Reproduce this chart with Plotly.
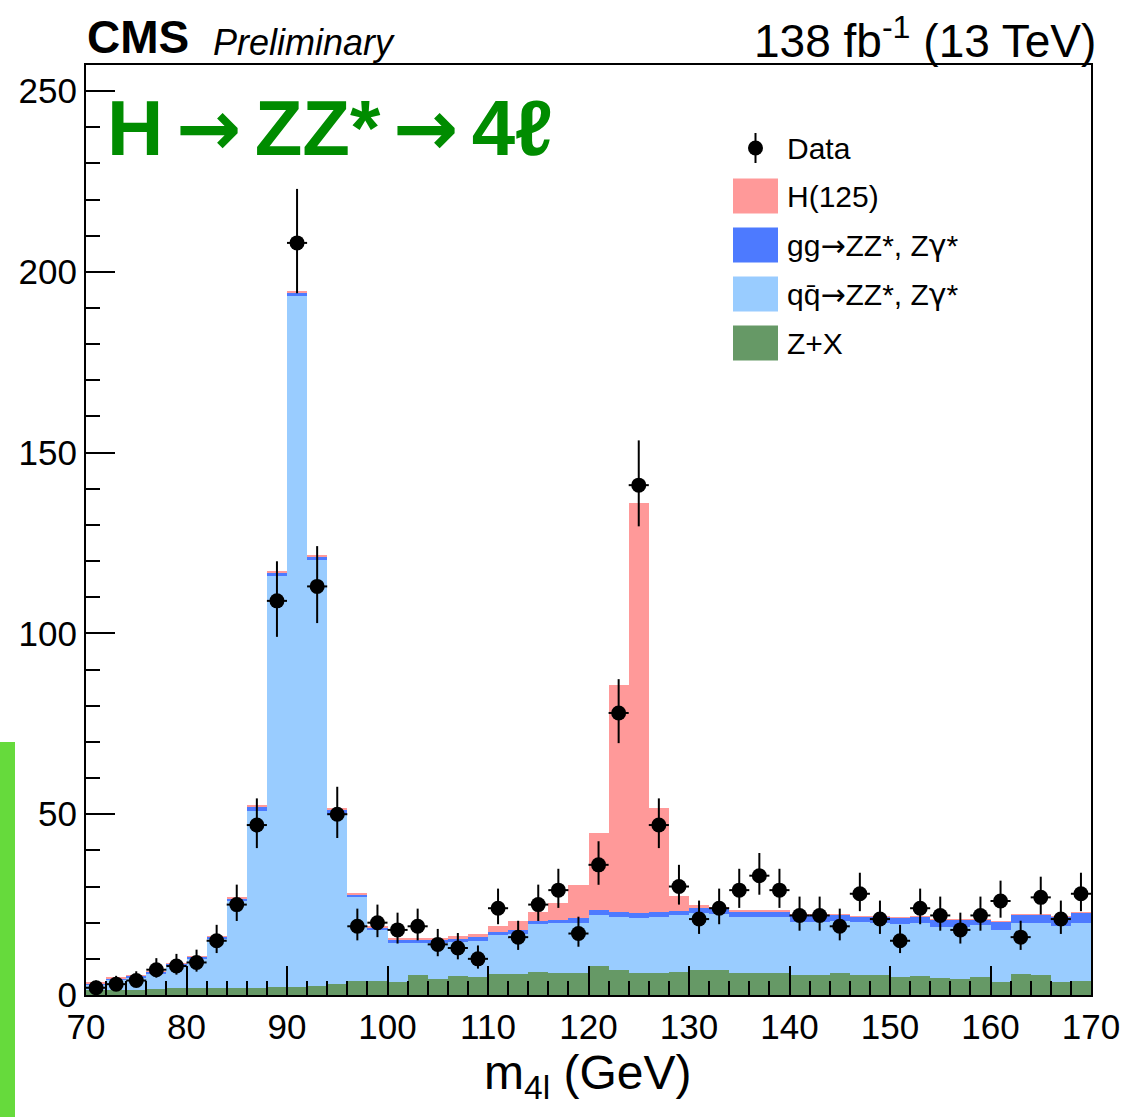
import numpy as np
import plotly.graph_objects as go

# ---------------- data ----------------
mass_centers = [71, 73, 75, 77, 79, 81, 83, 85, 87, 89, 91, 93, 95, 97, 99,
                101, 103, 105, 107, 109, 111, 113, 115, 117, 119, 121, 123, 125, 127, 129,
                131, 133, 135, 137, 139, 141, 143, 145, 147, 149, 151, 153, 155, 157, 159,
                161, 163, 165, 167, 169]

data_counts = [2, 3, 4, 7, 8, 9, 15, 25, 47, 109, 208, 113, 50, 19, 20,
               18, 19, 14, 13, 10, 24, 16, 25, 29, 17, 36, 78, 141, 47, 30,
               21, 24, 29, 33, 29, 22, 22, 19, 28, 21, 15, 24, 22, 18, 22,
               26, 16, 27, 21, 28]

zx_bkg = [1.5, 1.5, 1.5, 1.6, 1.8, 1.8, 1.9, 2.0, 2.0, 2.1, 2.2, 2.5, 3.0, 4.0, 3.8,
          3.7, 5.5, 4.4, 5.2, 5.0, 5.8, 5.8, 6.3, 6.0, 6.0, 8.0, 7.0, 6.2, 6.2, 6.5,
          7.0, 7.0, 6.2, 6.0, 6.2, 5.4, 5.4, 6.0, 5.6, 5.6, 5.0, 5.2, 4.6, 4.4, 5.0,
          3.6, 5.8, 5.6, 3.6, 4.0]

qq_zz = [1.4, 2.7, 3.3, 4.2, 6.3, 8.2, 13.6, 24.0, 49.0, 113.7, 191.0, 117.8, 47.0, 23.0, 14.2,
         10.7, 8.9, 10.0, 9.4, 10.0, 10.8, 11.2, 13.3, 13.9, 14.0, 14.0, 14.6, 15.2, 15.4, 15.6,
         15.6, 15.4, 15.3, 15.5, 15.3, 14.9, 14.9, 14.6, 14.7, 14.4, 14.6, 14.6, 14.3, 14.5, 14.3,
         14.4, 14.2, 14.4, 15.4, 16.0]

gg_zz = [0.4, 0.5, 0.5, 0.6, 0.6, 0.6, 0.7, 0.8, 1.2, 1.0, 1.0, 1.0, 1.2, 0.9, 0.8,
         0.9, 0.9, 1.0, 1.0, 1.0, 0.9, 0.9, 0.9, 0.9, 1.2, 1.5, 1.4, 1.4, 1.4, 1.1,
         1.4, 1.4, 1.7, 1.6, 1.7, 2.0, 2.0, 1.7, 1.3, 1.6, 1.8, 1.8, 2.0, 2.0, 1.6,
         2.3, 2.3, 2.3, 2.6, 2.8]

h125 = [0.1, 0.15, 0.1, 0.1, 0.1, 0.1, 0.1, 0.2, 0.3, 0.3, 0.3, 0.3, 0.3, 0.3, 0.2,
        0.3, 0.4, 0.4, 0.6, 0.8, 1.5, 2.6, 2.5, 4.6, 9.2, 21.2, 62.6, 113.2, 28.7, 4.1,
        1.0, 0.4, 0.3, 0.2, 0.1, 0.1, 0.1, 0.1, 0.2, 0.1, 0.1, 0.1, 0.1, 0.1, 0.1,
        0.1, 0.1, 0.1, 0.1, 0.1]

x_tick_vals = [70, 80, 90, 100, 110, 120, 130, 140, 150, 160, 170]
y_tick_vals = [0, 50, 100, 150, 200, 250]

ARROW = '<span style="font-family:DejaVu Sans">\u2192</span>'
GAMMA = '<span style="font-family:DejaVu Sans">\u03b3</span>'
legend_labels = ["Data", "H(125)",
                 "gg" + ARROW + "ZZ*, Z" + GAMMA + "*",
                 "qq\u0304" + ARROW + "ZZ*, Z" + GAMMA + "*",
                 "Z+X"]
trace_names = ["Z+X", "qq\u0304\u2192ZZ*, Z\u03b3*", "gg\u2192ZZ*, Z\u03b3*", "H(125)"]

# ---------------- styling ----------------
C_H = "#FF9999"
C_GG = "#4D7AFF"
C_QQ = "#99CCFF"
C_ZX = "#669966"
FONT = "Liberation Sans, Arial, Helvetica, sans-serif"

W, H = 1135, 1117
ML, MR, MT, MB = 86, 44, 65, 122
PW = W - ML - MR
PH = H - MT - MB


def px2paper_x(px):
    return (px - ML) / PW


def px2paper_y(py):
    return (H - MB - py) / PH


counts = np.array(data_counts, dtype=float)
err_up = 0.5 + np.sqrt(counts + 0.25)
err_dn = -0.5 + np.sqrt(counts + 0.25)

fig = go.Figure()
for name, vals, col in zip(trace_names, [zx_bkg, qq_zz, gg_zz, h125], [C_ZX, C_QQ, C_GG, C_H]):
    fig.add_trace(go.Bar(x=mass_centers, y=vals, width=2, name=name,
                         marker=dict(color=col, line=dict(width=0)),
                         showlegend=False))

fig.add_trace(go.Scatter(
    x=mass_centers, y=data_counts, mode="markers", name="Data",
    marker=dict(color="black", size=15),
    error_y=dict(type="data", symmetric=False, array=err_up, arrayminus=err_dn,
                 color="black", thickness=2, width=0),
    error_x=dict(type="constant", value=1, color="black", thickness=2, width=0),
    showlegend=False))

fig.update_layout(
    width=W, height=H,
    margin=dict(l=ML, r=MR, t=MT, b=MB),
    paper_bgcolor="white", plot_bgcolor="white",
    barmode="stack", bargap=0,
    font=dict(family=FONT, color="black", size=35),
    xaxis=dict(range=[70, 170], tickvals=x_tick_vals, ticks="inside", ticklen=29,
               tickwidth=2, tickcolor="black", showline=True, linecolor="black",
               linewidth=2, mirror=True, showgrid=False, zeroline=False,
               tickfont=dict(size=35),
               minor=dict(ticks="inside", ticklen=14, tickwidth=2, tickcolor="black",
                          dtick=2, tick0=70, showgrid=False)),
    yaxis=dict(range=[0, 257.2], tickvals=y_tick_vals, ticks="inside", ticklen=29,
               tickwidth=2, tickcolor="black", showline=True, linecolor="black",
               linewidth=2, mirror=True, showgrid=False, zeroline=False,
               tickfont=dict(size=35),
               minor=dict(ticks="inside", ticklen=14, tickwidth=2, tickcolor="black",
                          dtick=10, tick0=0, showgrid=False)),
)

TS = "\u2006"
ann = []
ann.append(dict(text="<b>CMS</b>", x=px2paper_x(85), y=px2paper_y(37), xref="paper", yref="paper",
                xanchor="left", yanchor="middle", showarrow=False, font=dict(size=46, family=FONT)))
ann.append(dict(text="<i>Preliminary</i>", x=px2paper_x(211), y=px2paper_y(42), xref="paper", yref="paper",
                xanchor="left", yanchor="middle", showarrow=False, font=dict(size=36, family=FONT)))
ann.append(dict(text="138 fb<sup>-1</sup> (13 TeV)", x=px2paper_x(1098), y=px2paper_y(38), xref="paper", yref="paper",
                xanchor="right", yanchor="middle", showarrow=False, font=dict(size=46, family=FONT)))
ann.append(dict(text="<b>H" + TS + ARROW + TS + "ZZ*" + TS + ARROW + TS + "4\u2113</b>",
                x=px2paper_x(105), y=px2paper_y(128),
                xref="paper", yref="paper",
                xanchor="left", yanchor="middle", showarrow=False, font=dict(size=78, family=FONT, color="#008C00")))
ann.append(dict(text="m<sub>4l</sub> (GeV)", x=px2paper_x(587), y=px2paper_y(1076), xref="paper", yref="paper",
                xanchor="center", yanchor="middle", showarrow=False, font=dict(size=48, family=FONT)))

shapes = []
# manual legend
leg_y = [148, 196, 245, 294, 343]
text_x = 785
for lbl, yy in zip(legend_labels, leg_y):
    ann.append(dict(text=lbl, x=px2paper_x(text_x), y=px2paper_y(yy), xref="paper", yref="paper",
                    xanchor="left", yanchor="middle", showarrow=False, font=dict(size=30, family=FONT)))
for col, yy in zip([C_H, C_GG, C_QQ, C_ZX], leg_y[1:]):
    shapes.append(dict(type="rect", xref="paper", yref="paper",
                       x0=px2paper_x(733), x1=px2paper_x(778),
                       y0=px2paper_y(yy + 17.5), y1=px2paper_y(yy - 17.5),
                       fillcolor=col, line=dict(width=0), layer="above"))
# data legend marker
shapes.append(dict(type="line", xref="paper", yref="paper",
                   x0=px2paper_x(755.5), x1=px2paper_x(755.5),
                   y0=px2paper_y(133), y1=px2paper_y(163),
                   line=dict(color="black", width=2), layer="above"))
shapes.append(dict(type="circle", xref="paper", yref="paper",
                   x0=px2paper_x(748), x1=px2paper_x(763),
                   y0=px2paper_y(155.5), y1=px2paper_y(140.5),
                   fillcolor="black", line=dict(width=0), layer="above"))
# green strip at left edge of the screenshot
shapes.append(dict(type="rect", xref="paper", yref="paper",
                   x0=px2paper_x(0), x1=px2paper_x(15),
                   y0=px2paper_y(1117), y1=px2paper_y(742),
                   fillcolor="#66DA3C", line=dict(width=0), layer="above"))

fig.update_layout(annotations=ann, shapes=shapes)
fig.write_html("out.html")
